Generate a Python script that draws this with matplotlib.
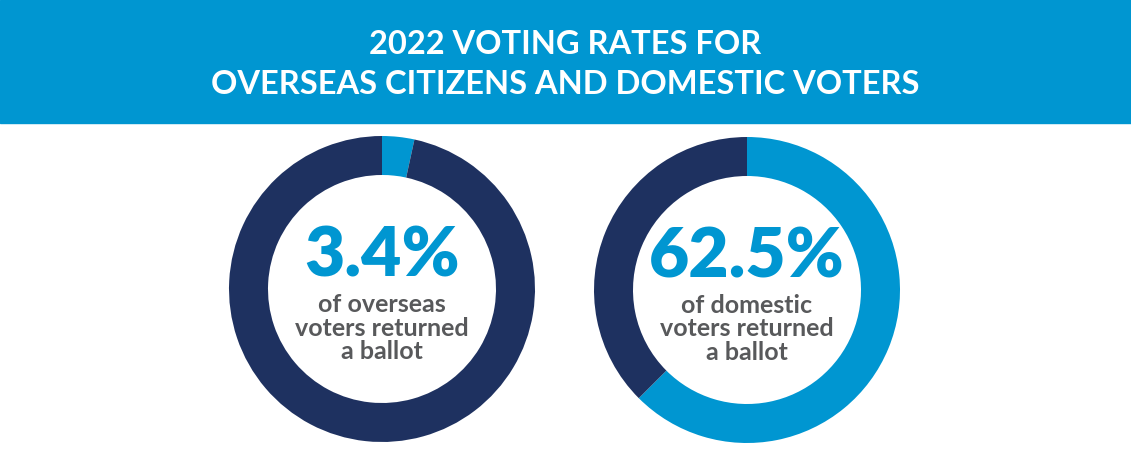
import matplotlib
matplotlib.use("Agg")
import matplotlib.pyplot as plt
from matplotlib.patches import Rectangle

title_lines = ["2022 VOTING RATES FOR", "OVERSEAS CITIZENS AND DOMESTIC VOTERS"]
groups = ["overseas", "domestic"]
returned_pct = [3.4, 62.5]
value_labels = ["3.4%", "62.5%"]
sub_labels = ["of overseas\nvoters returned\na ballot", "of domestic\nvoters returned\na ballot"]

LIGHT = "#0096D1"
DARK = "#1E3160"
GRAY = "#58595B"

W, H = 1131, 465
fig = plt.figure(figsize=(W / 100, H / 100), dpi=100)
ax = fig.add_axes([0, 0, 1, 1])

def Y(y):
    return H - y

# banner
ax.add_patch(Rectangle((0, Y(123)), W, 123, color=LIGHT, zorder=0))
ax.text(W / 2, Y(45), title_lines[0], color="white", fontsize=23.5, fontweight="bold",
        family="Lato", ha="center", va="center")
ax.text(W / 2, Y(84), title_lines[1], color="white", fontsize=23.5, fontweight="bold",
        family="Lato", ha="center", va="center")

centers = [(382, 289), (747, 290)]
R = 153
width = 39
for (cx, cy), pct, vl, sl in zip(centers, returned_pct, value_labels, sub_labels):
    ax.pie([pct, 100 - pct], colors=[LIGHT, DARK], startangle=90, counterclock=False,
           center=(cx, Y(cy)), radius=R, wedgeprops=dict(width=width, linewidth=0),
           frame=True)
    ax.text(cx, Y(cy - 32), vl, color=LIGHT, fontsize=50, fontweight="heavy",
            family="Lato", ha="center", va="center")
    ax.text(cx, Y(cy + 39), sl, color=GRAY, fontsize=18, fontweight="bold",
            family="Lato", ha="center", va="center", linespacing=1.05)

ax.set_xlim(0, W)
ax.set_ylim(0, H)
ax.set_aspect("auto")
ax.axis("off")
fig.savefig("out.png", dpi=100, facecolor="white")
